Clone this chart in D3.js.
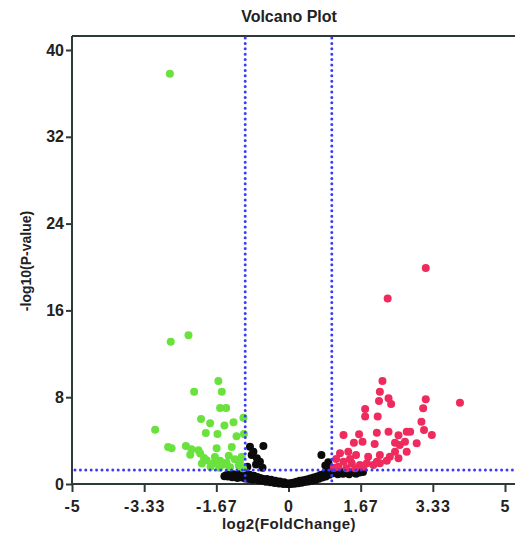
<!DOCTYPE html>
<html>
<head>
<meta charset="utf-8">
<script src="https://cdn.jsdelivr.net/npm/d3@7"></script>
<style>
  html, body { margin: 0; padding: 0; background: #fff; }
  svg text { font-family: "Liberation Sans", Arial, sans-serif; font-weight: bold; fill: #222; }
</style>
</head>
<body>
<div id="chart"></div>
<script>
// tick values + labels
var xTicks = [-5, -10 / 3, -5 / 3, 0, 5 / 3, 10 / 3, 5],
	xTickLabels = ["-5", "-3.33", "-1.67", "0", "1.67", "3.33", "5"],
	yTicks = [0, 8, 16, 24, 32, 40];

// thresholds
var fcCut = 1, pCut = 1.3;

// down-regulated (green): [log2FC, -log10 p]
var downGenes = [
	[-2.74, 37.8], [-2.72, 13.1], [-2.31, 13.7], [-1.62, 9.5], [-2.18, 8.5], [-1.54, 8.5],
	[-1.58, 7.0], [-1.44, 7.0], [-2.02, 6.0], [-1.81, 5.6], [-1.48, 5.4], [-1.27, 5.7],
	[-1.04, 6.1], [-3.08, 5.0], [-1.91, 4.7], [-1.64, 4.6], [-1.2, 4.4], [-1.03, 4.6],
	[-2.78, 3.4], [-2.7, 3.3], [-2.37, 3.5], [-2.24, 3.2], [-2.08, 3.1], [-1.66, 3.3],
	[-1.31, 3.4], [-2.27, 2.7], [-2.04, 2.8], [-1.89, 2.2], [-1.74, 1.9], [-1.58, 2.15],
	[-1.43, 1.96], [-1.24, 2.28], [-1.12, 2.06], [-1.08, 2.52], [-1.8, 1.6], [-1.6, 1.5],
	[-1.35, 1.55], [-1.15, 1.7], [-1.05, 1.45], [-2.0, 1.9], [-1.5, 1.8], [-1.95, 2.4],
	[-1.38, 2.6], [-1.7, 2.5]
];

// up-regulated (red)
var upGenes = [
	[3.17, 19.9], [2.29, 17.1], [2.17, 9.5], [2.11, 8.5], [2.31, 7.9], [2.09, 7.65],
	[2.37, 7.38], [3.17, 7.8], [3.96, 7.5], [1.77, 6.92], [3.11, 6.98], [1.77, 6.21],
	[2.06, 6.21], [3.07, 5.74], [3.13, 4.98], [3.31, 4.52], [2.96, 3.75], [2.73, 4.82],
	[2.81, 4.82], [1.63, 4.58], [2.04, 4.73], [2.31, 4.82], [2.54, 4.49], [1.51, 3.81],
	[1.71, 3.9], [1.99, 3.69], [2.46, 3.81], [2.57, 3.6], [2.69, 3.9], [1.27, 4.52],
	[1.19, 2.83], [1.38, 2.98], [1.56, 2.67], [1.84, 2.52], [2.11, 2.67], [2.34, 2.52],
	[2.46, 2.98], [2.54, 2.37], [2.73, 2.98], [1.27, 2.06], [1.46, 1.91], [1.65, 1.75],
	[1.81, 1.91], [1.96, 1.75], [2.04, 2.06], [1.15, 1.6], [1.34, 1.45], [1.54, 1.45],
	[1.73, 1.6], [2.11, 1.91], [2.27, 2.15], [1.1, 2.3], [1.05, 1.5], [1.42, 2.3]
];

// not significant (black)
var otherGenes = [
	[-1.48, 0.72], [-1.44, 0.8], [-1.4, 0.7], [-1.38, 0.88], [-1.34, 0.75], [-1.3, 0.62],
	[-1.28, 0.9], [-1.24, 0.7], [-1.2, 0.85], [-1.18, 0.55], [-1.14, 0.75], [-1.1, 0.95],
	[-1.08, 0.6], [-1.04, 0.8], [-1.0, 0.5], [-0.98, 0.9], [-0.95, 0.7], [-0.92, 0.45],
	[-0.9, 0.85], [-0.86, 0.6], [-0.83, 0.4], [-0.8, 0.75], [-0.76, 0.5], [-0.72, 0.65],
	[-0.7, 0.35], [-0.66, 0.55], [-0.62, 0.3], [-0.6, 0.48], [-0.56, 0.4], [-0.52, 0.2],
	[-0.5, 0.45], [-0.46, 0.3], [-0.42, 0.15], [-0.4, 0.4], [-0.36, 0.25], [-0.32, 0.1],
	[-0.3, 0.3], [-0.26, 0.18], [-0.22, 0.05], [-0.2, 0.22], [-0.16, 0.1], [-0.12, 0.0],
	[-0.1, 0.15], [-0.06, 0.05], [-0.03, 0.0], [0, 0.0], [0.02, 0.08],
	[0.06, 0.0], [0.1, 0.12], [0.14, 0.02], [0.18, 0.2], [0.22, 0.08], [0.26, 0.3],
	[0.3, 0.12], [0.34, 0.35], [0.38, 0.18], [0.42, 0.42], [0.46, 0.22], [0.5, 0.5],
	[0.54, 0.3], [0.58, 0.6], [0.62, 0.38], [0.66, 0.7], [0.7, 0.48], [0.74, 0.82],
	[0.78, 0.6], [0.82, 0.95], [0.86, 0.7], [0.9, 1.1], [0.94, 0.85], [0.98, 1.3],
	[1.02, 1.0], [1.06, 1.25], [1.1, 1.1], [1.14, 0.9], [1.2, 1.15], [1.26, 0.95],
	[1.32, 1.05], [1.4, 0.9], [1.48, 1.1], [1.56, 0.95], [1.64, 1.05], [1.72, 1.1],
	[-0.89, 3.44], [-0.58, 3.5], [-0.85, 2.67], [-0.73, 2.37], [-0.81, 2.98], [-0.66, 2.06],
	[-0.95, 1.6], [-0.6, 1.5], [-0.75, 1.8], [0.76, 2.67], [0.92, 2.0], [0.85, 1.7]
];

(function() {
	var width = 515, height = 544,
		plotLeft = 72, plotRight = 505, plotTop = 50, plotBottom = 484, frameTop = 36;

	var svg = d3.select("#chart").append("svg")
		.attr("width", width)
		.attr("height", height);

	var x = d3.scaleLinear().domain([-5, 5]).range([plotLeft, plotRight]),
		y = d3.scaleLinear().domain([0, 40]).range([plotBottom, plotTop]);

	var axisColor = "#2d3a3a";

	// top frame line
	svg.append("line")
		.attr("x1", plotLeft).attr("x2", width)
		.attr("y1", frameTop).attr("y2", frameTop)
		.attr("stroke", axisColor).attr("stroke-width", 2);

	// axes
	var xAxis = d3.axisBottom(x)
		.tickValues(xTicks)
		.tickFormat(function(d, i) { return xTickLabels[i]; })
		.tickSizeInner(8).tickSizeOuter(0).tickPadding(9);

	var yAxis = d3.axisLeft(y)
		.tickValues(yTicks)
		.tickSizeInner(6).tickSizeOuter(0).tickPadding(2);

	var gx = svg.append("g")
		.attr("transform", "translate(0," + plotBottom + ")")
		.call(xAxis);
	gx.select(".domain").attr("d", "M" + plotLeft + ",0H" + width);

	var gy = svg.append("g")
		.attr("transform", "translate(" + plotLeft + ",0)")
		.call(yAxis);
	gy.select(".domain").attr("d", "M0," + frameTop + "V" + plotBottom);

	[gx, gy].forEach(function(g) {
		g.select(".domain").attr("stroke", axisColor).attr("stroke-width", 2);
		g.selectAll(".tick line").attr("stroke", axisColor).attr("stroke-width", 2);
		g.selectAll(".tick text")
			.attr("font-family", null)
			.attr("font-size", null)
			.style("font-size", "16px")
			.attr("fill", "#222");
	});
	gx.selectAll(".tick text").style("letter-spacing", "1px");

	function drawGroup(data, color) {
		svg.append("g").selectAll("circle")
			.data(data)
			.enter().append("circle")
			.attr("cx", function(d) { return x(d[0]); })
			.attr("cy", function(d) { return y(d[1]); })
			.attr("r", 4)
			.attr("fill", color);
	}

	drawGroup(otherGenes, "#0b0b0b");
	drawGroup(downGenes, "#6ae23e");
	drawGroup(upGenes, "#ef2a5c");

	// threshold lines (dotted)
	function dotted(x1, y1, x2, y2) {
		svg.append("line")
			.attr("x1", x1).attr("y1", y1).attr("x2", x2).attr("y2", y2)
			.attr("stroke", "#3a3aff")
			.attr("stroke-width", 3)
			.attr("stroke-dasharray", "0 5.4")
			.attr("stroke-linecap", "round");
	}
	dotted(x(-fcCut), frameTop + 2, x(-fcCut), plotBottom);
	dotted(x(fcCut), frameTop + 2, x(fcCut), plotBottom);
	dotted(plotLeft + 3, y(pCut), width, y(pCut));

	// labels
	svg.append("text")
		.attr("x", 289).attr("y", 22)
		.attr("text-anchor", "middle")
		.style("font-size", "16px")
		.text("Volcano Plot");

	svg.append("text")
		.attr("x", 289).attr("y", 529)
		.attr("text-anchor", "middle")
		.style("font-size", "15px")
		.style("letter-spacing", "0.4px")
		.text("log2(FoldChange)");

	svg.append("text")
		.attr("transform", "translate(31,261) rotate(-90)")
		.attr("text-anchor", "middle")
		.style("font-size", "14px")
		.text("-log10(P-value)");
})();
</script>
</body>
</html>
